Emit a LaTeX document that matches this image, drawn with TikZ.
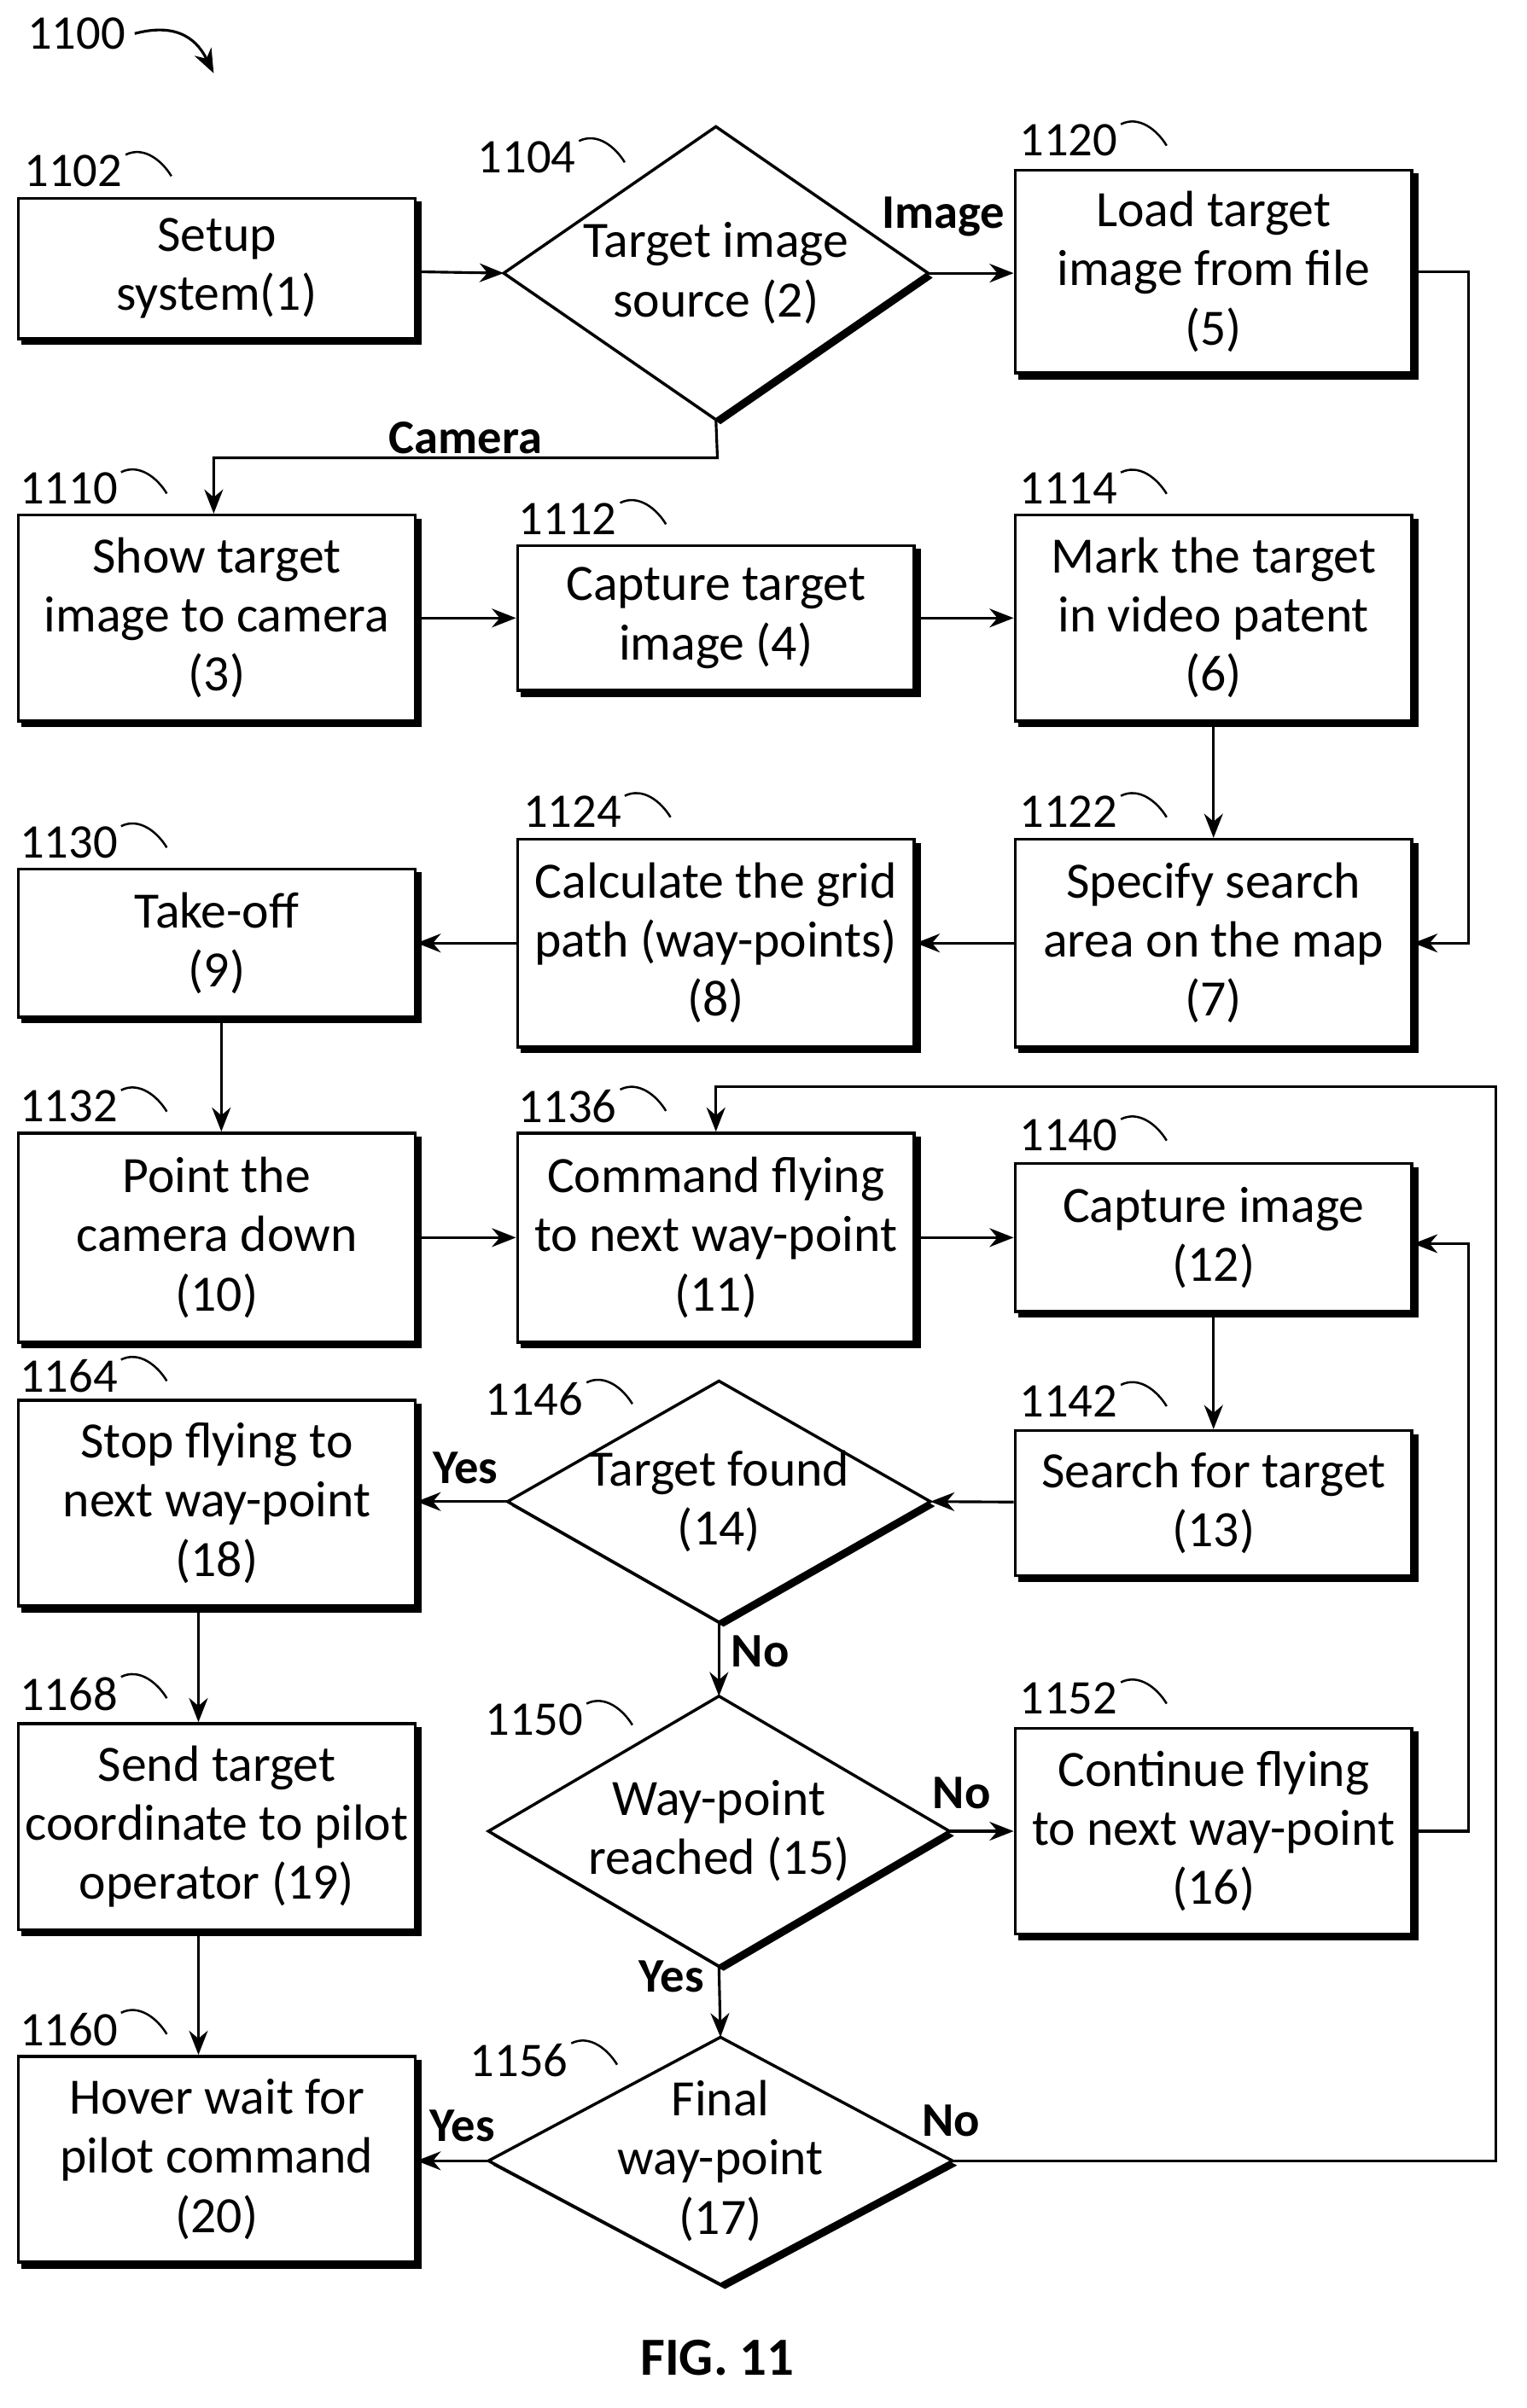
\documentclass[tikz,border=0pt]{standalone}
\usepackage{fontspec}
\setmainfont{Carlito}
\usetikzlibrary{shapes.geometric,shadows,arrows.meta}
\begin{document}
\begin{tikzpicture}[x=0.02cm,y=-0.02cm,
 font=\fontsize{19}{22}\selectfont,
 sh/.style={copy shadow={shadow xshift=1.8pt,shadow yshift=-1.8pt,fill=black,draw=black}},
 box/.style={draw,line width=1.1pt,fill=white,sh,minimum width=5.2cm,align=center,inner sep=2pt},
 ar/.style={-{Stealth[length=9pt,width=7pt]},line width=1pt},
 lb/.style={font=\fontsize{18}{20}\selectfont},
 yn/.style={font=\bfseries\fontsize{18}{20}\selectfont}]
\useasboundingbox (0,0) rectangle (1000,1578);
\newcommand{\rl}[4]{\node[lb] (#1) at (#2,#3) {#4};
 \draw[line width=0.8pt] (#1.north east) ++(-4,6) .. controls +(12,-6) and +(-6,-10) .. +(30,14);}
\newcommand{\dm}[6]{%
 \coordinate (#1-c) at (#2,#3);
 \coordinate (#1-n) at (#2,#3-#5/2); \coordinate (#1-s) at (#2,#3+#5/2);
 \coordinate (#1-e) at (#2+#4/2,#3); \coordinate (#1-w) at (#2-#4/2,#3);
 \fill[black] ([shift={(3,3)}]#1-n) -- ([shift={(3,3)}]#1-e) -- ([shift={(3,3)}]#1-s) -- ([shift={(3,3)}]#1-w) -- cycle;
 \draw[line width=1.1pt,fill=white] (#1-n) -- (#1-e) -- (#1-s) -- (#1-w) -- cycle;
 \node[align=center] (#1) at (#2,#3) {#6};}
\node[box,minimum height=1.84cm] (b1102) at (142,176) {Setup\\system(1)};
\dm{d1104}{469}{179}{278}{192}{Target image\\source (2)}
\node[box,minimum height=2.66cm] (b1120) at (795,178) {Load target\\image from file\\(5)};
\node[box,minimum height=2.7cm] (b1110) at (142,405) {Show target\\image to camera\\(3)};
\node[box,minimum height=1.9cm] (b1112) at (469,405) {Capture target\\image (4)};
\node[box,minimum height=2.7cm] (b1114) at (795,405) {Mark the target\\in video patent\\(6)};
\node[box,minimum height=1.94cm] (b1130) at (142,618) {Take-off\\(9)};
\node[box,minimum height=2.72cm] (b1124) at (469,618) {Calculate the grid\\path (way-points)\\(8)};
\node[box,minimum height=2.72cm] (b1122) at (795,618) {Specify search\\area on the map\\(7)};
\node[box,minimum height=2.74cm] (b1132) at (142,811) {Point the\\camera down\\(10)};
\node[box,minimum height=2.74cm] (b1136) at (469,811) {Command flying\\to next way-point\\(11)};
\node[box,minimum height=1.94cm] (b1140) at (795,811) {Capture image\\(12)};
\node[box,minimum height=2.7cm] (b1164) at (142,985) {Stop flying to\\next way-point\\(18)};
\dm{d1146}{471}{984}{277}{158}{Target found\\(14)}
\node[box,minimum height=1.9cm] (b1142) at (795,985) {Search for target\\(13)};
\node[box,minimum height=2.7cm] (b1168) at (142,1197) {Send target\\coordinate to pilot\\operator (19)};
\dm{d1150}{471}{1200}{302}{177}{Way-point\\reached (15)}
\node[box,minimum height=2.7cm] (b1152) at (795,1200) {Continue flying\\to next way-point\\(16)};
\node[box,minimum height=2.7cm] (b1160) at (142,1415) {Hover wait for\\pilot command\\(20)};
\dm{d1156}{472}{1416}{304}{162}{Final\\way-point\\(17)}
\rl{l1102}{48}{112}{1102}\rl{l1104}{345}{103}{1104}\rl{l1120}{700}{92}{1120}
\rl{l1110}{45}{320}{1110}\rl{l1112}{372}{340}{1112}\rl{l1114}{700}{320}{1114}
\rl{l1130}{45}{552}{1130}\rl{l1124}{375}{532}{1124}\rl{l1122}{700}{532}{1122}
\rl{l1132}{45}{725}{1132}\rl{l1136}{372}{725}{1136}\rl{l1140}{700}{744}{1140}
\rl{l1164}{45}{902}{1164}\rl{l1146}{350}{917}{1146}\rl{l1142}{700}{918}{1142}
\rl{l1168}{45}{1110}{1168}\rl{l1150}{350}{1127}{1150}\rl{l1152}{700}{1113}{1152}
\rl{l1160}{45}{1330}{1160}\rl{l1156}{340}{1350}{1156}
\node[lb] (l1100) at (50,22) {1100};
\draw[ar] (l1100.east) .. controls +(30,-8) and +(-10,-20) .. (140,48);
\node[font=\bfseries\fontsize{20}{22}\selectfont] (fig) at (470,1545) {FIG. 11};
\draw[ar] (b1102) -- (d1104-w);
\draw[ar] (d1104-e) -- (b1120.west |- d1104-e);
\node[yn] at (618,142) {Image};
\draw[ar] (d1104-s) -- (470,300) -- (140,300) -- (b1110.north -| 140,0);
\node[yn] at (305,287) {Camera};
\draw[ar] (b1110) -- (b1112);
\draw[ar] (b1112) -- (b1114);
\draw[ar] (b1114) -- (b1122);
\draw[ar] (b1120.east) -- (962,178) -- (962,618) -- (b1122.east);
\draw[ar] (b1122) -- (b1124);
\draw[ar] (b1124) -- (b1130);
\draw[ar] (b1130.south -| 145,0) -- (b1132.north -| 145,0);
\draw[ar] (b1132) -- (b1136);
\draw[ar] (b1136) -- (b1140);
\draw[ar] (b1140) -- (b1142);
\draw[ar] (b1142) -- (d1146-e);
\draw[ar] (d1146-w) -- (b1164.east |- d1146-w);
\node[yn] at (305,962) {Yes};
\draw[ar] (d1146-s) -- (d1150-n);
\node[yn] at (498,1082) {No};
\draw[ar] (d1150-e) -- (b1152.west |- d1150-e);
\node[yn] at (630,1175) {No};
\draw[ar] (b1152.east) -- (962,1200) -- (962,815) -- (b1140.east |- 0,815);
\draw[ar] (d1150-s) -- (d1156-n);
\node[yn] at (440,1295) {Yes};
\draw[ar] (d1156-w) -- (b1160.east |- d1156-w);
\node[yn] at (303,1393) {Yes};
\draw[ar] (d1156-e) -- (980,1416) -- (980,712) -- (469,712) -- (b1136.north);
\node[yn] at (623,1390) {No};
\draw[ar] (b1164.south -| 130,0) -- (b1168.north -| 130,0);
\draw[ar] (b1168.south -| 130,0) -- (b1160.north -| 130,0);
\end{tikzpicture}
\end{document}
